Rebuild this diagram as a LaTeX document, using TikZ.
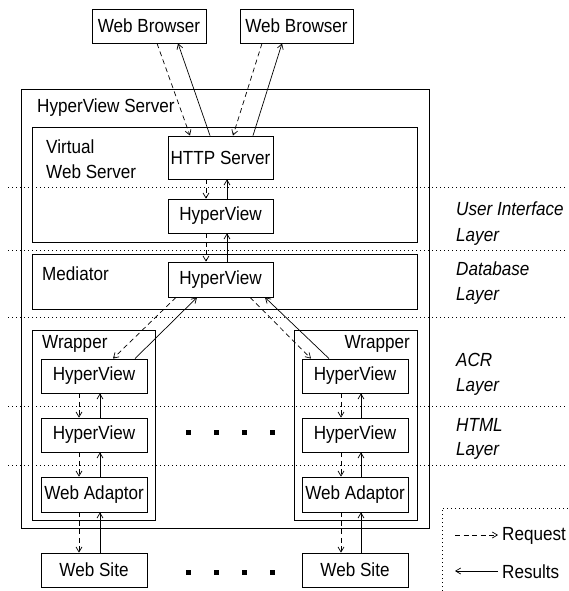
\documentclass[tikz,border=0pt]{standalone}
\usepackage{fontspec}
\setmainfont{Liberation Sans}[FakeStretch=0.9]
\usetikzlibrary{arrows.meta}
\begin{document}
\begin{tikzpicture}[x=1pt,y=-1pt,
  font=\fontsize{19}{22}\selectfont,
  box/.style={draw, line width=0.8pt, inner sep=0pt, minimum width=105pt},
  frame/.style={draw, line width=0.8pt, inner sep=0pt},
  req/.style={line width=0.7pt, dash pattern=on 5pt off 3.5pt, -{Straight Barb[length=5pt,width=6pt]}},
  res/.style={line width=0.7pt, -{Straight Barb[length=5pt,width=6pt]}},
  layer/.style={line width=0.8pt, dash pattern=on 1pt off 3pt},
  lbl/.style={anchor=base west, inner sep=0pt},
  lyr/.style={anchor=base west, inner sep=0pt, font=\fontsize{19}{22}\selectfont\itshape},
  sq/.style={fill, minimum size=5pt, inner sep=0pt}]
\useasboundingbox (0,0) rectangle (568,591);
% layer lines
\draw[layer] (8,187) -- (568,187);
\draw[layer] (8,250) -- (568,250);
\draw[layer] (8,317) -- (568,317);
\draw[layer] (8,406) -- (568,406);
\draw[layer] (8,465) -- (568,465);
% frames
\node[frame, minimum width=408pt, minimum height=439pt] (hvs) at (225,308.5) {};
\node[frame, minimum width=385pt, minimum height=115pt] (vws) at (224.5,184.5) {};
\node[frame, minimum width=385pt, minimum height=55pt] (med) at (224.5,281.5) {};
\node[frame, minimum width=123pt, minimum height=190pt] (wrapL) at (93.5,425) {};
\node[frame, minimum width=123pt, minimum height=190pt] (wrapR) at (355.5,425) {};
% frame labels
\node[lbl] (lhvs) at (37,113) {HyperView Server};
\node[lbl] (lvir) at (46,153) {Virtual};
\node[lbl] (lvws) at (46,178) {Web Server};
\node[lbl] (lmed) at (42,280) {Mediator};
\node[lbl] (lwl) at (42,348) {Wrapper};
\node[anchor=base east, inner sep=0pt] (lwr) at (410,348) {Wrapper};
% boxes
\node[box, minimum width=114pt, minimum height=34pt] (wb1) at (149,26) {Web Browser};
\node[box, minimum width=113pt, minimum height=34pt] (wb2) at (296.5,26) {Web Browser};
\node[box, minimum height=43pt] (http) at (220.5,157.5) {HTTP Server};
\node[box, minimum height=34pt] (hvui) at (220.5,216) {HyperView};
\node[box, minimum height=35pt] (hvm) at (220.5,279.5) {HyperView};
\node[box, minimum width=106pt, minimum height=34pt] (acrL) at (94,376) {HyperView};
\node[box, minimum width=106pt, minimum height=34pt] (htmlL) at (94,435) {HyperView};
\node[box, minimum width=106pt, minimum height=35pt] (adL) at (94,494.5) {Web Adaptor};
\node[box, minimum width=106pt, minimum height=34pt] (siteL) at (94,570) {Web Site};
\node[box, minimum width=106pt, minimum height=34pt] (acrR) at (355,376) {HyperView};
\node[box, minimum width=106pt, minimum height=34pt] (htmlR) at (355,435) {HyperView};
\node[box, minimum width=106pt, minimum height=35pt] (adR) at (355,494.5) {Web Adaptor};
\node[box, minimum width=106pt, minimum height=34pt] (siteR) at (355,570) {Web Site};
% connectors: browsers
\draw[req] (157,0 |- wb1.south) -- (190,0 |- http.north);
\draw[res] (210,0 |- http.north) -- (178,0 |- wb1.south);
\draw[req] (262,0 |- wb2.south) -- (233,0 |- http.north);
\draw[res] (253,0 |- http.north) -- (282,0 |- wb2.south);
% vertical center
\draw[req] (206,0 |- http.south) -- (206,0 |- hvui.north);
\draw[res] (227,0 |- hvui.north) -- (227,0 |- http.south);
\draw[req] (206,0 |- hvui.south) -- (206,0 |- hvm.north);
\draw[res] (227,0 |- hvm.north) -- (227,0 |- hvui.south);
% diagonals
\draw[req] (176,0 |- hvm.south) -- (113,0 |- acrL.north);
\draw[res] (135,0 |- acrL.north) -- (197,0 |- hvm.south);
\draw[req] (250,0 |- hvm.south) -- (311,0 |- acrR.north);
\draw[res] (329,0 |- acrR.north) -- (265,0 |- hvm.south);
% left column
\draw[req] (79,0 |- acrL.south) -- (79,0 |- htmlL.north);
\draw[res] (100,0 |- htmlL.north) -- (100,0 |- acrL.south);
\draw[req] (79,0 |- htmlL.south) -- (79,0 |- adL.north);
\draw[res] (100,0 |- adL.north) -- (100,0 |- htmlL.south);
\draw[req] (79,0 |- adL.south) -- (79,0 |- siteL.north);
\draw[res] (100,0 |- siteL.north) -- (100,0 |- adL.south);
% right column
\draw[req] (341,0 |- acrR.south) -- (341,0 |- htmlR.north);
\draw[res] (361,0 |- htmlR.north) -- (361,0 |- acrR.south);
\draw[req] (341,0 |- htmlR.south) -- (341,0 |- adR.north);
\draw[res] (361,0 |- adR.north) -- (361,0 |- htmlR.south);
\draw[req] (341,0 |- adR.south) -- (341,0 |- siteR.north);
\draw[res] (361,0 |- siteR.north) -- (361,0 |- adR.south);
% ellipsis squares
\foreach \i/\x in {1/188,2/216,3/244,4/272} {
  \node[sq] (dotA\i) at (\x,432) {};
  \node[sq] (dotB\i) at (\x,572) {};
}
% layer labels
\node[lyr] (ui1) at (456,215) {User Interface};
\node[lyr] (ui2) at (456,241) {Layer};
\node[lyr] (db1) at (456,275) {Database};
\node[lyr] (db2) at (456,300) {Layer};
\node[lyr] (acr1) at (456,366) {ACR};
\node[lyr] (acr2) at (456,391) {Layer};
\node[lyr] (ht1) at (456,431) {HTML};
\node[lyr] (ht2) at (456,455) {Layer};
% legend
\draw[layer] (442,591) -- (442,508) -- (568,508);
\coordinate (rq0) at (455,535);
\coordinate (rq1) at (498,535);
\coordinate (rs0) at (498,571);
\coordinate (rs1) at (455,571);
\draw[req] (rq0) -- (rq1);
\draw[res] (rs0) -- (rs1);
\node[lbl] (lreq) at (502,540) {Request};
\node[lbl] (lres) at (502,578) {Results};
\end{tikzpicture}
\end{document}
